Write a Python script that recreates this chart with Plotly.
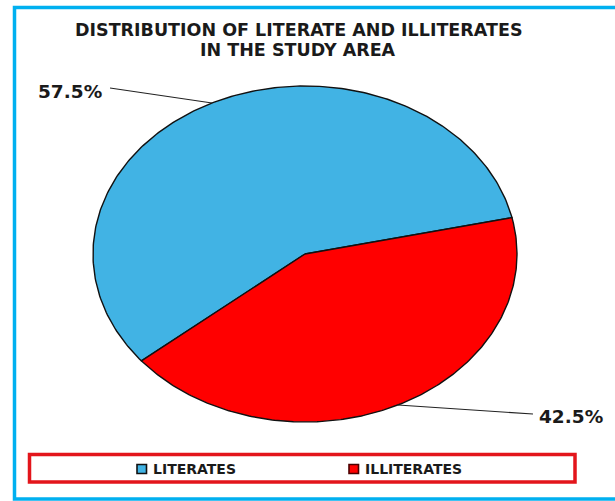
import numpy as np
import plotly.graph_objects as go

# Data
categories = ["LITERATES", "ILLITERATES"]
shares = [57.5, 42.5]
slice_colors = ["#41B3E4", "#FF0000"]
title_lines = ["DISTRIBUTION OF LITERATE AND ILLITERATES", "IN THE STUDY AREA"]

# Canvas and pie geometry (pixel-like data units, y grows downward)
W, H = 615, 501
CX, CY, RX, RY = 305, 254, 212, 168
START_DEG = 12.5  # first slice starts here and sweeps counter-clockwise

FONT = "DejaVu Sans"
TEXT_COLOR = "#1a1a1a"


def ellipse_point(deg):
    t = np.radians(deg)
    return CX + RX * np.cos(t), CY - RY * np.sin(t)


fig = go.Figure()

total = float(sum(shares))
start = START_DEG
mid_angles = []
for name, val, col in zip(categories, shares, slice_colors):
    sweep = 360.0 * val / total
    angs = np.linspace(start, start + sweep, 240)
    ax, ay = ellipse_point(angs)
    xs = np.concatenate([[CX], ax, [CX]])
    ys = np.concatenate([[CY], ay, [CY]])
    fig.add_trace(go.Scatter(
        x=xs, y=ys, mode="lines", fill="toself", fillcolor=col,
        line=dict(color="#111111", width=1.4),
        name=name, hoverinfo="name", showlegend=False,
    ))
    mid_angles.append(start + sweep / 2)
    start += sweep

# Percentage labels with leader lines to the middle of each slice
label_spots = [(104, 91, "right", 110, 88), (537, 416, "left", 533, 414)]
for val, mid, (lx, ly, anchor, ex, ey) in zip(shares, mid_angles, label_spots):
    px, py = ellipse_point(mid)
    fig.add_shape(type="line", x0=ex, y0=ey, x1=px, y1=py,
                  line=dict(color="#222222", width=1.1))
    fig.add_annotation(x=lx, y=ly, text=f"{val}%", showarrow=False,
                       xanchor=anchor, yanchor="middle",
                       font=dict(family=FONT, size=18.5, color=TEXT_COLOR, weight="bold"))

# Title, two centred lines
for i, line in enumerate(title_lines):
    fig.add_annotation(x=298, y=29.5 + 20 * i, text=line, showarrow=False,
                       xanchor="center", yanchor="middle",
                       font=dict(family=FONT, size=17.5, color=TEXT_COLOR, weight="bold"))

# Legend box and entries
fig.add_shape(type="rect", x0=29.5, y0=454.5, x1=575, y1=482,
              line=dict(color="#E3151B", width=3.5))
legend_x = [137, 349]
legend_edge = ["#111111", "#4a0000"]
for name, col, lx, edge in zip(categories, slice_colors, legend_x, legend_edge):
    fig.add_shape(type="rect", x0=lx, y0=464.5, x1=lx + 9.5, y1=473.5,
                  fillcolor=col, line=dict(color=edge, width=1.6))
    fig.add_annotation(x=lx + 14, y=469, text=name, showarrow=False,
                       xanchor="left", yanchor="middle",
                       font=dict(family=FONT, size=14, color=TEXT_COLOR, weight="bold"))

# Outer frame
fig.add_shape(type="rect", x0=14.5, y0=7.5, x1=640, y1=499,
              line=dict(color="#00B0F0", width=3.5))

fig.update_layout(
    width=W, height=H,
    margin=dict(l=0, r=0, t=0, b=0),
    paper_bgcolor="white", plot_bgcolor="white",
    showlegend=False,
    xaxis=dict(range=[0, W], visible=False, fixedrange=True),
    yaxis=dict(range=[H, 0], visible=False, fixedrange=True),
)

fig.write_html("out.html")
